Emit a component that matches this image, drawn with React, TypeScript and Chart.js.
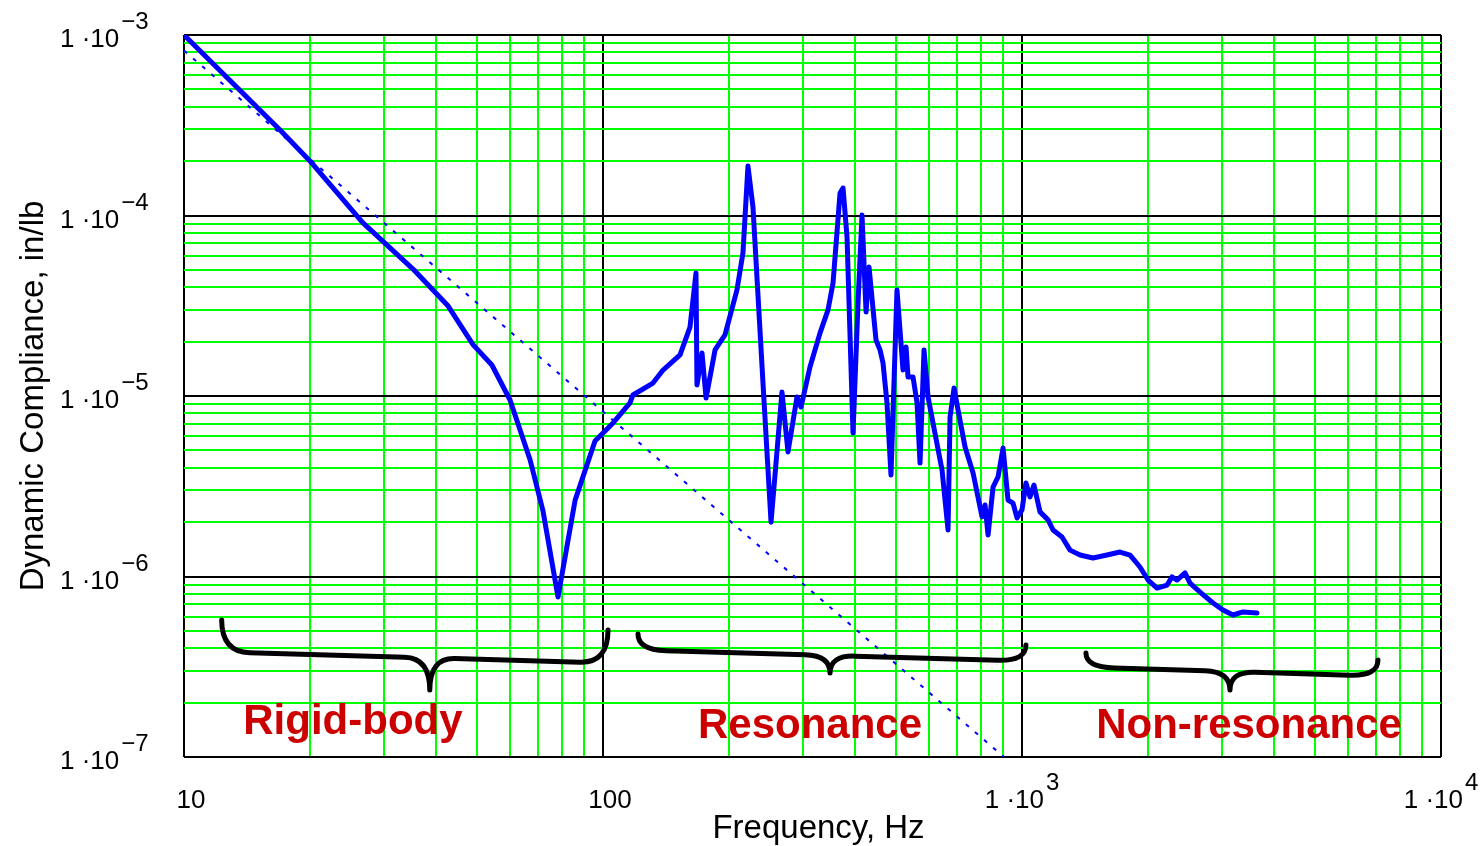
import React, { useEffect, useRef } from "react";
import { Chart, registerables } from "chart.js";

Chart.register(...registerables);

// Measured dynamic compliance (in/lb) vs frequency (Hz)
const freqHz = [
  10, 16.95, 20.0, 26.7, 35.2, 42.7, 49.0, 54.3, 60.0, 67.0,
  71.9, 78.1, 85.8, 95.7, 105.7, 116, 117.9, 131.6, 139.1, 152.7,
  161.3, 166.7, 167.6, 172.3, 176.2, 185.1, 195.5, 208.8, 215.8, 221.8,
  228.0, 240.9, 251.8, 267.4, 276.4, 290.4, 296.9, 311.9, 329.5, 344.4,
  354.0, 367.9, 374.0, 382.3, 395.1, 406.1, 415.1, 424.4, 431.4, 448.3,
  458.3, 465.9, 476.2, 486.8, 503.1, 520.0, 528.7, 534.5, 549.5, 561.7,
  571.0, 583.7, 596.7, 613.2, 644.4, 666.0, 673.4, 688.3, 703.7, 731.3,
  764.2, 802.8, 816.2, 829.9, 852.9, 876.6, 901.1, 926.1, 951.9, 973.0,
  1000, 1022, 1045, 1068, 1104, 1154, 1186, 1246, 1302, 1376,
  1477, 1595, 1714, 1811, 1912, 1999, 2100, 2219, 2280, 2344,
  2449, 2518, 2660, 2857, 3018, 3189, 3369, 3638,
];
const compliance = [
  1.0e-3, 2.98e-4, 2.0e-4, 9.13e-5, 5.05e-5, 3.15e-5, 1.92e-5, 1.485e-5, 9.5e-6, 4.42e-6,
  2.31e-6, 7.7e-7, 2.65e-6, 5.63e-6, 7.09e-6, 9.15e-6, 1.013e-5, 1.18e-5, 1.393e-5, 1.688e-5,
  2.41e-5, 4.8e-5, 1.15e-5, 1.73e-5, 9.75e-6, 1.8e-5, 2.18e-5, 3.87e-5, 6.2e-5, 1.88e-4,
  1.114e-4, 1.18e-5, 2.0e-6, 1.052e-5, 4.9e-6, 9.87e-6, 8.69e-6, 1.448e-5, 2.23e-5, 3.0e-5,
  4.23e-5, 1.333e-4, 1.42e-4, 7.6e-5, 6.24e-6, 3.27e-5, 1.006e-4, 2.92e-5, 5.18e-5, 2.04e-5,
  1.8e-5, 1.523e-5, 9.15e-6, 3.65e-6, 3.87e-5, 1.393e-5, 1.87e-5, 1.274e-5, 1.274e-5, 9.15e-6,
  4.25e-6, 1.8e-5, 9.87e-6, 7.09e-6, 3.89e-6, 1.81e-6, 7.65e-6, 1.107e-5, 8.37e-6, 5.22e-6,
  3.74e-6, 2.14e-6, 2.49e-6, 1.7e-6, 3.13e-6, 3.56e-6, 5.15e-6, 2.65e-6, 2.55e-6, 2.11e-6,
  2.34e-6, 3.3e-6, 2.76e-6, 3.21e-6, 2.28e-6, 2.06e-6, 1.81e-6, 1.655e-6, 1.4e-6, 1.315e-6,
  1.266e-6, 1.315e-6, 1.366e-6, 1.315e-6, 1.129e-6, 9.56e-7, 8.63e-7, 8.97e-7, 9.94e-7, 9.56e-7,
  1.046e-6, 9.2e-7, 8.2e-7, 7.13e-7, 6.52e-7, 6.12e-7, 6.36e-7, 6.28e-7,
];

// Rigid-body (mass line) reference, dotted
const massLineFreq = [10, 1000];
const massLineCompliance = [8.2e-4, 8.2e-8];

// Axis ticks
const xTickValues = [10, 100, 1000, 10000];
const xTickMain = ["10", "100", "1 \u00b710", "1 \u00b710"];
const xTickSup = ["", "", "3", "4"];
const yTickValues = [1e-3, 1e-4, 1e-5, 1e-6, 1e-7];
const yTickMain = ["1 \u00b710", "1 \u00b710", "1 \u00b710", "1 \u00b710", "1 \u00b710"];
const yTickSup = ["\u22123", "\u22124", "\u22125", "\u22126", "\u22127"];

const xTitle = "Frequency, Hz";
const yTitle = "Dynamic Compliance, in/lb";

// Region braces (frequency ends / cusp, compliance levels)
const braceStartHz = [12.3, 121.2, 1421];
const braceCuspHz = [38.6, 348.2, 3136];
const braceEndHz = [102.8, 1022, 7073];
const braceEndLeftC = [5.74e-7, 4.8e-7, 3.77e-7];
const braceBarLeftC = [3.82e-7, 3.92e-7, 3.15e-7];
const braceTipC = [2.35e-7, 2.92e-7, 2.35e-7];
const braceBarRightC = [3.32e-7, 3.4e-7, 2.81e-7];
const braceEndRightC = [5.05e-7, 4.17e-7, 3.45e-7];

const regionLabels = ["Rigid-body", "Resonance", "Non-resonance"];
const regionLabelHz = [25.3, 311.9, 3482];
const regionLabelC = [1.34e-7, 1.274e-7, 1.274e-7];

const FONT = "'Liberation Sans', Arial, Helvetica, sans-serif";

function gridValues(min: number, max: number): number[] {
  const out: number[] = [];
  for (let e = Math.round(Math.log10(min)); e < Math.round(Math.log10(max)); e++) {
    for (let m = 1; m <= 9; m++) out.push(m * Math.pow(10, e));
  }
  out.push(max);
  return out;
}

function isDecade(v: number): boolean {
  const l = Math.log10(v);
  return Math.abs(l - Math.round(l)) < 1e-6;
}

const overlayPlugin = {
  id: "overlay",
  afterDraw(chart: any) {
    const ctx: CanvasRenderingContext2D = chart.ctx;
    const xs = chart.scales.x;
    const ys = chart.scales.y;
    const area = chart.chartArea;
    ctx.save();
    ctx.fillStyle = "#000";

    // y tick labels
    for (let i = 0; i < yTickValues.length; i++) {
      const py = ys.getPixelForValue(yTickValues[i]);
      ctx.font = `26px ${FONT}`;
      ctx.textAlign = "left";
      ctx.textBaseline = "alphabetic";
      const x0 = 60;
      ctx.fillText(yTickMain[i], x0, py + 12);
      const w = ctx.measureText(yTickMain[i]).width;
      ctx.font = `24px ${FONT}`;
      ctx.fillText(yTickSup[i], x0 + w + 2, py - 6);
    }

    // x tick labels
    for (let i = 0; i < xTickValues.length; i++) {
      const px = xs.getPixelForValue(xTickValues[i]);
      ctx.textBaseline = "alphabetic";
      ctx.textAlign = "left";
      ctx.font = `26px ${FONT}`;
      const wMain = ctx.measureText(xTickMain[i]).width;
      ctx.font = `24px ${FONT}`;
      const wSup = xTickSup[i] ? ctx.measureText(xTickSup[i]).width + 2 : 0;
      const total = wMain + wSup;
      const left = xTickSup[i] ? px - total / 2 : px + 7 - total / 2;
      ctx.font = `26px ${FONT}`;
      ctx.fillText(xTickMain[i], left, 808);
      if (xTickSup[i]) {
        ctx.font = `24px ${FONT}`;
        ctx.fillText(xTickSup[i], left + wMain + 2, 790);
      }
    }

    // axis titles
    ctx.font = `33px ${FONT}`;
    ctx.textAlign = "center";
    ctx.textBaseline = "alphabetic";
    ctx.fillText(xTitle, (area.left + area.right) / 2 + 6, 838);
    ctx.save();
    ctx.translate(43, (area.top + area.bottom) / 2);
    ctx.rotate(-Math.PI / 2);
    ctx.fillText(yTitle, 0, 0);
    ctx.restore();

    // braces
    ctx.strokeStyle = "#000";
    ctx.lineWidth = 5;
    ctx.lineCap = "round";
    ctx.lineJoin = "round";
    for (let i = 0; i < braceStartHz.length; i++) {
      const X1 = xs.getPixelForValue(braceStartHz[i]);
      const XM = xs.getPixelForValue(braceCuspHz[i]);
      const X2 = xs.getPixelForValue(braceEndHz[i]);
      const YEL = ys.getPixelForValue(braceEndLeftC[i]);
      const YBL = ys.getPixelForValue(braceBarLeftC[i]);
      const YT = ys.getPixelForValue(braceTipC[i]);
      const YBR = ys.getPixelForValue(braceBarRightC[i]);
      const YER = ys.getPixelForValue(braceEndRightC[i]);
      const yAt = (x: number) => YBL + ((YBR - YBL) * (x - X1)) / (X2 - X1);
      const r = 28;
      const c = 25;
      ctx.beginPath();
      ctx.moveTo(X1, YEL);
      ctx.quadraticCurveTo(X1, yAt(X1), X1 + r, yAt(X1 + r));
      ctx.lineTo(XM - c, yAt(XM - c));
      ctx.quadraticCurveTo(XM, yAt(XM), XM, YT);
      ctx.quadraticCurveTo(XM, yAt(XM), XM + c, yAt(XM + c));
      ctx.lineTo(X2 - r, yAt(X2 - r));
      ctx.quadraticCurveTo(X2, yAt(X2), X2, YER);
      ctx.stroke();
    }

    // region labels
    ctx.fillStyle = "#cc0000";
    ctx.font = `bold 42px ${FONT}`;
    ctx.textAlign = "center";
    for (let i = 0; i < regionLabels.length; i++) {
      ctx.fillText(
        regionLabels[i],
        xs.getPixelForValue(regionLabelHz[i]),
        ys.getPixelForValue(regionLabelC[i])
      );
    }
    ctx.restore();
  },
};

export default function App() {
  const ref = useRef<HTMLCanvasElement>(null);
  useEffect(() => {
    document.body.style.margin = "0";
    const canvas = ref.current!;
    const gridColor = (c: any) =>
      c.tick && isDecade(c.tick.value) ? "#000000" : "#00ff00";
    const chart = new Chart(canvas, {
      type: "line",
      data: {
        datasets: [
          {
            label: "Dynamic compliance",
            data: freqHz.map((f, i) => ({ x: f, y: compliance[i] })),
            borderColor: "#0000ff",
            borderWidth: 5,
            pointRadius: 0,
            tension: 0,
            borderJoinStyle: "round",
            borderCapStyle: "round",
            fill: false,
          },
          {
            label: "Mass line",
            data: massLineFreq.map((f, i) => ({ x: f, y: massLineCompliance[i] })),
            borderColor: "#0000ff",
            borderWidth: 2,
            borderDash: [4, 8],
            pointRadius: 0,
            tension: 0,
            fill: false,
          },
        ],
      },
      options: {
        responsive: false,
        animation: false,
        devicePixelRatio: 1,
        layout: { padding: { left: 184, top: 35, right: 41, bottom: 89 } },
        plugins: { legend: { display: false }, tooltip: { enabled: false } },
        scales: {
          x: {
            type: "logarithmic",
            min: 10,
            max: 10000,
            afterBuildTicks: (s: any) => {
              s.ticks = gridValues(10, 10000).map((v) => ({ value: v }));
            },
            ticks: { display: false, autoSkip: false },
            grid: { color: gridColor, lineWidth: 2, drawTicks: false },
            border: { display: false },
            title: { display: false },
          },
          y: {
            type: "logarithmic",
            min: 1e-7,
            max: 1e-3,
            afterBuildTicks: (s: any) => {
              s.ticks = gridValues(1e-7, 1e-3).map((v) => ({ value: v }));
            },
            ticks: { display: false, autoSkip: false },
            grid: { color: gridColor, lineWidth: 2, drawTicks: false },
            border: { display: false },
            title: { display: false },
          },
        },
      },
      plugins: [overlayPlugin],
    } as any);
    return () => chart.destroy();
  }, []);
  return (
    <div style={{ width: 1482, height: 846, background: "#fff" }}>
      <canvas
        ref={ref}
        width={1482}
        height={846}
        style={{ display: "block", width: 1482, height: 846 }}
      />
    </div>
  );
}
